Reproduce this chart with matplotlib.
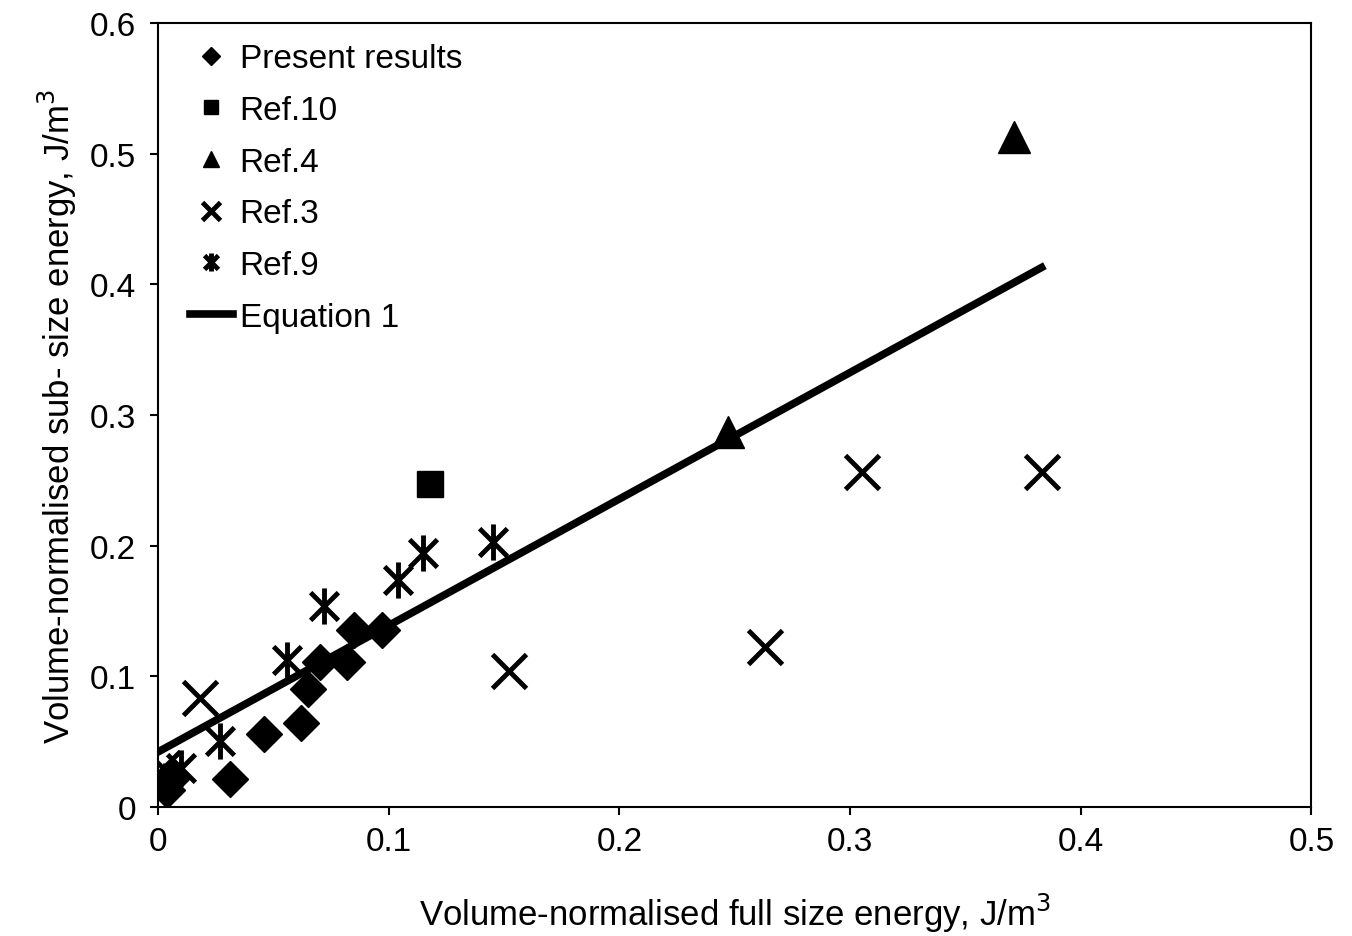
import numpy as np
import matplotlib.pyplot as plt
from matplotlib.path import Path

plt.rcParams['font.family'] = ['Liberation Sans', 'DejaVu Sans']

# data
present_x = [0.004, 0.006, 0.031, 0.046, 0.062, 0.065, 0.070, 0.082, 0.085, 0.097]
present_y = [0.013, 0.022, 0.021, 0.056, 0.064, 0.090, 0.111, 0.111, 0.135, 0.135]

ref10_x = [0.118]
ref10_y = [0.247]

ref4_x = [0.247, 0.371]
ref4_y = [0.287, 0.513]

ref3_x = [0.002, 0.018, 0.152, 0.263, 0.305, 0.383]
ref3_y = [0.030, 0.083, 0.104, 0.122, 0.256, 0.256]

ref9_x = [0.003, 0.010, 0.027, 0.056, 0.072, 0.104, 0.115, 0.145]
ref9_y = [0.020, 0.030, 0.050, 0.112, 0.154, 0.174, 0.194, 0.203]

eq_x = [0.0, 0.383]
eq_y = [0.042, 0.413]

# excel style asterisk: x plus vertical bar
star = Path([(-1, -1), (1, 1), (-1, 1), (1, -1), (0, -1.3), (0, 1.3)],
            [Path.MOVETO, Path.LINETO, Path.MOVETO, Path.LINETO, Path.MOVETO, Path.LINETO])

fig = plt.figure(figsize=(13.52, 9.37), dpi=100)
ax = fig.add_axes([0.117, 0.138, 0.853, 0.836])

ax.plot(present_x, present_y, 'D', color='black', ms=18, ls='none', label='Present results')
ax.plot(ref10_x, ref10_y, 's', color='black', ms=19, ls='none', label='Ref.10')
ax.plot(ref4_x, ref4_y, '^', color='black', ms=23, ls='none', label='Ref.4')
ax.plot(ref3_x, ref3_y, 'x', color='black', ms=25, mew=3.5, ls='none', label='Ref.3')
ax.plot(ref9_x, ref9_y, marker=star, color='black', ms=26, mew=3.5, ls='none', label='Ref.9')
ax.plot(eq_x, eq_y, '-', color='black', lw=5.5, label='Equation 1')

ax.set_xlim(0, 0.5)
ax.set_ylim(0, 0.6)
ax.set_xticks([0, 0.1, 0.2, 0.3, 0.4, 0.5])
ax.set_xticklabels(['0', '0.1', '0.2', '0.3', '0.4', '0.5'])
ax.set_yticks([0, 0.1, 0.2, 0.3, 0.4, 0.5, 0.6])
ax.set_yticklabels(['0', '0.1', '0.2', '0.3', '0.4', '0.5', '0.6'])
ax.tick_params(labelsize=24, width=1.5, length=6)
ax.tick_params(axis='x', pad=8)
ax.tick_params(axis='y', pad=10)
for s in ax.spines.values():
    s.set_linewidth(1.5)

ax.set_xlabel('Volume-normalised full size energy, J/m$^3$', fontsize=25, labelpad=24)
ax.set_ylabel('Volume-normalised sub- size energy, J/m$^3$', fontsize=25, labelpad=8)

leg = ax.legend(loc='upper left', frameon=False, fontsize=24, markerscale=0.5,
                handlelength=1.3, handletextpad=0.2, labelspacing=0.62,
                borderaxespad=0.2, bbox_to_anchor=(0.01, 1.0))

fig.savefig('out.png', dpi=100)
